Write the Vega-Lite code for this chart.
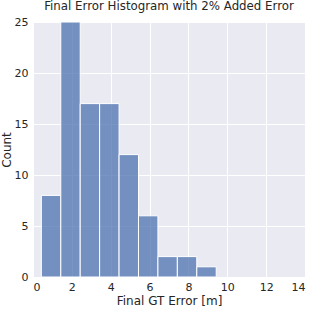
{
  "$schema": "https://vega.github.io/schema/vega-lite/v6.json",
  "width": 309,
  "height": 309,
  "autosize": {"type": "fit", "contains": "padding"},
  "padding": {"left": 0, "top": 1, "right": 4, "bottom": 3},
  "background": "white",
  "title": {"text": "Final Error Histogram with 2% Added Error", "fontSize": 11.8, "fontWeight": "normal", "font": "DejaVu Sans", "color": "#262626", "offset": 3, "anchor": "middle"},
  "config": {
    "view": {"fill": "#EAEAF2", "stroke": null},
    "axis": {"domain": false, "ticks": false, "gridColor": "white", "gridWidth": 1, "labelFont": "DejaVu Sans", "titleFont": "DejaVu Sans", "labelFontSize": 11, "titleFontSize": 12, "titleFontWeight": "normal", "labelColor": "#262626", "titleColor": "#262626", "labelPadding": 4}
  },
  "data": {"values": [
    {"start": 0.43, "end": 1.43, "count": 8},
    {"start": 1.43, "end": 2.43, "count": 25},
    {"start": 2.43, "end": 3.43, "count": 17},
    {"start": 3.43, "end": 4.43, "count": 17},
    {"start": 4.43, "end": 5.43, "count": 12},
    {"start": 5.43, "end": 6.43, "count": 6},
    {"start": 6.43, "end": 7.43, "count": 2},
    {"start": 7.43, "end": 8.43, "count": 2},
    {"start": 8.43, "end": 9.43, "count": 1}
  ]},
  "mark": {"type": "rect", "fill": "#4C72B0", "fillOpacity": 0.75, "stroke": "white", "strokeWidth": 1},
  "encoding": {
    "x": {"field": "start", "type": "quantitative", "scale": {"domain": [0, 14], "nice": false}, "axis": {"values": [0, 2, 4, 6, 8, 10, 12, 14], "title": "Final GT Error [m]", "titlePadding": 3}},
    "x2": {"field": "end"},
    "y": {"field": "count", "type": "quantitative", "scale": {"domain": [0, 25], "nice": false}, "axis": {"values": [0, 5, 10, 15, 20, 25], "title": "Count", "titlePadding": 1, "labelPadding": 5}},
    "y2": {"datum": 0}
  }
}
